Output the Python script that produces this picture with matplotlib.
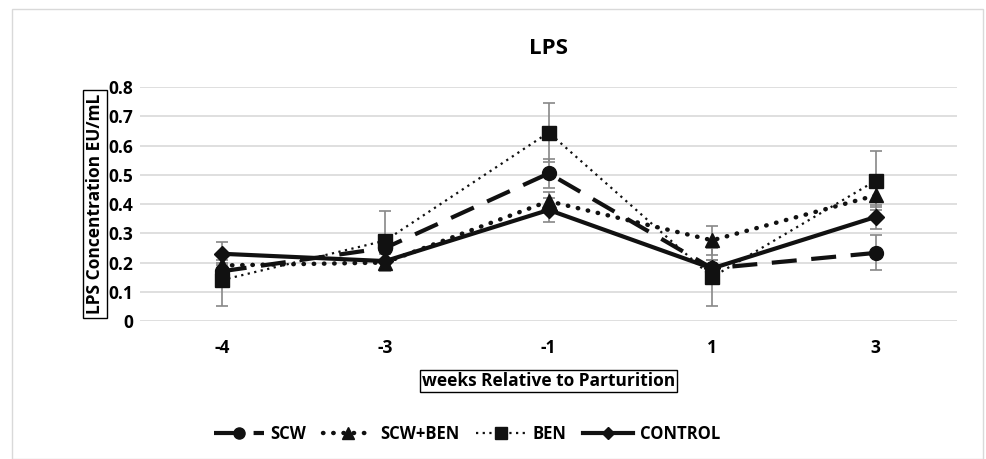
import numpy as np
import matplotlib.pyplot as plt
from matplotlib.patches import Rectangle

weeks = ['-4', '-3', '-1', '1', '3']

scw = [0.17, 0.25, 0.505, 0.18, 0.233]
scw_err = [0.03, 0.04, 0.05, 0.03, 0.06]

scw_ben = [0.19, 0.20, 0.41, 0.276, 0.43]
scw_ben_err = [0.02, 0.03, 0.03, 0.05, 0.04]

ben = [0.14, 0.275, 0.645, 0.15, 0.48]
ben_err = [0.09, 0.10, 0.10, 0.10, 0.10]

control = [0.23, 0.205, 0.38, 0.18, 0.356]
control_err = [0.04, 0.03, 0.04, 0.03, 0.04]

plt.rcParams['font.family'] = ['Open Sans', 'DejaVu Sans']
plt.rcParams['font.weight'] = 'bold'

fig = plt.figure(figsize=(9.86, 4.59), dpi=100)
ax = fig.add_axes([0.142, 0.3007, 0.829, 0.5093])

x = np.arange(len(weeks))
col = '#111111'
ecol = '#888888'

series = [
    (scw, scw_err, 'SCW', 'o', (0, (6, 3.5)), 3.0, 10),
    (scw_ben, scw_ben_err, 'SCW+BEN', '^', (0, (0.1, 2.2)), 3.2, 10),
    (ben, ben_err, 'BEN', 's', (0, (1, 2)), 1.6, 10),
    (control, control_err, 'CONTROL', 'D', '-', 3.0, 8),
]

for vals, err, name, mk, ls, lw, ms in series:
    ax.errorbar(x, vals, yerr=err, fmt='none', ecolor=ecol, elinewidth=1.2,
                capsize=4, capthick=1.2, zorder=2)
    line, = ax.plot(x, vals, color=col, linestyle=ls, linewidth=lw,
                    marker=mk, markersize=ms, label=name, zorder=3)
    if ls == (0, (0.1, 2.2)):
        line.set_dash_capstyle('round')

ax.set_xlim(-0.5, 4.5)
ax.set_ylim(0, 0.8)
ax.set_yticks(np.arange(0, 0.81, 0.1))
ax.set_yticklabels(['0', '0.1', '0.2', '0.3', '0.4', '0.5', '0.6', '0.7', '0.8'],
                   fontweight='bold')
ax.set_xticks(x)
ax.set_xticklabels(weeks, fontweight='bold')
ax.tick_params(axis='both', length=0, labelsize=12.5)
ax.tick_params(axis='x', pad=13)
ax.tick_params(axis='y', pad=5)
ax.grid(axis='y', color='#d9d9d9', linewidth=1.2)
ax.set_axisbelow(True)
for s in ax.spines.values():
    s.set_visible(False)

ax.set_title('LPS', fontsize=16, fontweight='bold', pad=24)
ax.set_ylabel('LPS Concentration EU/mL', fontsize=12.5, fontweight='bold', labelpad=3,
              bbox=dict(boxstyle='square,pad=0.2', fc='white', ec='black', lw=1))
ax.set_xlabel('weeks Relative to Parturition', fontsize=12.5, fontweight='bold', labelpad=11,
              bbox=dict(boxstyle='square,pad=0.12', fc='white', ec='black', lw=1))

ax.legend(loc='upper center', bbox_to_anchor=(0.4, -0.38), ncol=4, frameon=False,
          prop=dict(size=12, weight='bold'), handlelength=3.0, columnspacing=1.0,
          handletextpad=0.4, markerscale=0.8)

fig.patches.append(Rectangle((0.012, 0.0), 0.985, 0.98, transform=fig.transFigure,
                             fill=False, ec='#d9d9d9', lw=1))

fig.savefig('out.png', dpi=100)
